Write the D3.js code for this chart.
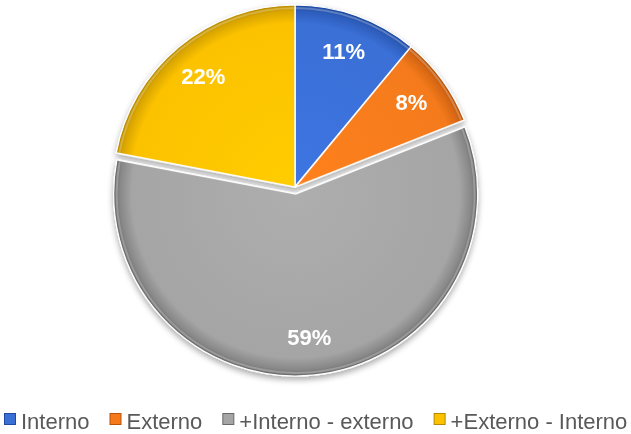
<!DOCTYPE html>
<html><head><meta charset="utf-8">
<script src="https://cdn.jsdelivr.net/npm/d3@7"></script>
<style>body{margin:0;background:#fff}svg{display:block}</style>
</head><body>
<svg id="c" width="631" height="434"></svg>
<script>
const categories = ["Interno", "Externo", "+Interno - externo", "+Externo - Interno"];
const values = [11, 8, 59, 22];
const labels = ["11%", "8%", "59%", "22%"];
const colors = ["#3a6fd6", "#f47a1c", "#a5a5a5", "#fcc200"];
const darks  = ["#1f4aa0", "#b9540a", "#6a6a6a", "#b88a00"];
const explode = [0, 0, 7, 0];

const W = 631, H = 434;
const cx = 295, cy = 187, R = 182;
const svg = d3.select("#c");
const defs = svg.append("defs");

// shadow filter
const sh = defs.append("filter").attr("id","shadow").attr("x","-20%").attr("y","-20%").attr("width","140%").attr("height","140%");
sh.append("feGaussianBlur").attr("in","SourceAlpha").attr("stdDeviation",3).attr("result","b");
sh.append("feOffset").attr("in","b").attr("dx",0).attr("dy",3).attr("result","o");
sh.append("feComponentTransfer").attr("in","o").attr("result","o2")
  .append("feFuncA").attr("type","linear").attr("slope",0.35);
const m = sh.append("feMerge");
m.append("feMergeNode").attr("in","o2");
m.append("feMergeNode").attr("in","SourceGraphic");

colors.forEach((c,i)=>{
  const g = defs.append("radialGradient").attr("id","g"+i).attr("gradientUnits","userSpaceOnUse")
    .attr("cx",0).attr("cy",0).attr("r",R);
  g.append("stop").attr("offset","0").attr("stop-color",d3.color(c).brighter(0.15));
  g.append("stop").attr("offset","0.9").attr("stop-color",c);
  g.append("stop").attr("offset","0.965").attr("stop-color",d3.interpolateRgb(c,darks[i])(0.5));
  g.append("stop").attr("offset","1").attr("stop-color",darks[i]);
});

const pie = d3.pie().sort(null).value(d=>d)(values);
const arc = d3.arc().innerRadius(0).outerRadius(R);
const innerArc = d3.arc().innerRadius(0).outerRadius(R-3);
const labelArc = d3.arc().innerRadius(R*0.79).outerRadius(R*0.79);

const root = svg.append("g").attr("filter","url(#shadow)");
pie.forEach((p,i)=>{
  const mid = (p.startAngle+p.endAngle)/2;
  const dx = Math.sin(mid)*explode[i], dy = -Math.cos(mid)*explode[i];
  const g = root.append("g").attr("transform",`translate(${cx+dx},${cy+dy})`);
  g.append("path").attr("d",arc(p)).attr("fill",`url(#g${i})`)
    .attr("stroke","#ffffff").attr("stroke-width",1.2).attr("stroke-linejoin","round");
  g.append("path").attr("d",innerArc(p)).attr("fill","none")
    .attr("stroke","#ffffff").attr("stroke-opacity",0.25).attr("stroke-width",2)
    .attr("stroke-linejoin","round");
});
pie.forEach((p,i)=>{
  const mid = (p.startAngle+p.endAngle)/2;
  const dx = Math.sin(mid)*explode[i], dy = -Math.cos(mid)*explode[i];
  const [lx,ly] = labelArc.centroid(p);
  svg.append("text").attr("x",cx+dx+lx).attr("y",cy+dy+ly).attr("dy","0.35em")
    .attr("text-anchor","middle").attr("fill","#ffffff")
    .attr("font-family","'Liberation Sans', Arial, sans-serif").attr("font-weight","bold")
    .attr("font-size",22).text(labels[i]);
});

// legend
const lg = svg.append("g");
let x = 4;
const ly = 424;
categories.forEach((c,i)=>{
  lg.append("rect").attr("x",x+0.5).attr("y",ly-10.5).attr("width",11).attr("height",11)
    .attr("fill",colors[i]).attr("stroke",darks[i]).attr("stroke-width",1);
  const t = lg.append("text").attr("x",x+17).attr("y",ly+5).attr("fill","#595959")
    .attr("font-family","'Liberation Sans', Arial, sans-serif").attr("font-size",22).text(c);
  x += 17 + t.node().getComputedTextLength() + 20;
});
</script>
</body></html>
